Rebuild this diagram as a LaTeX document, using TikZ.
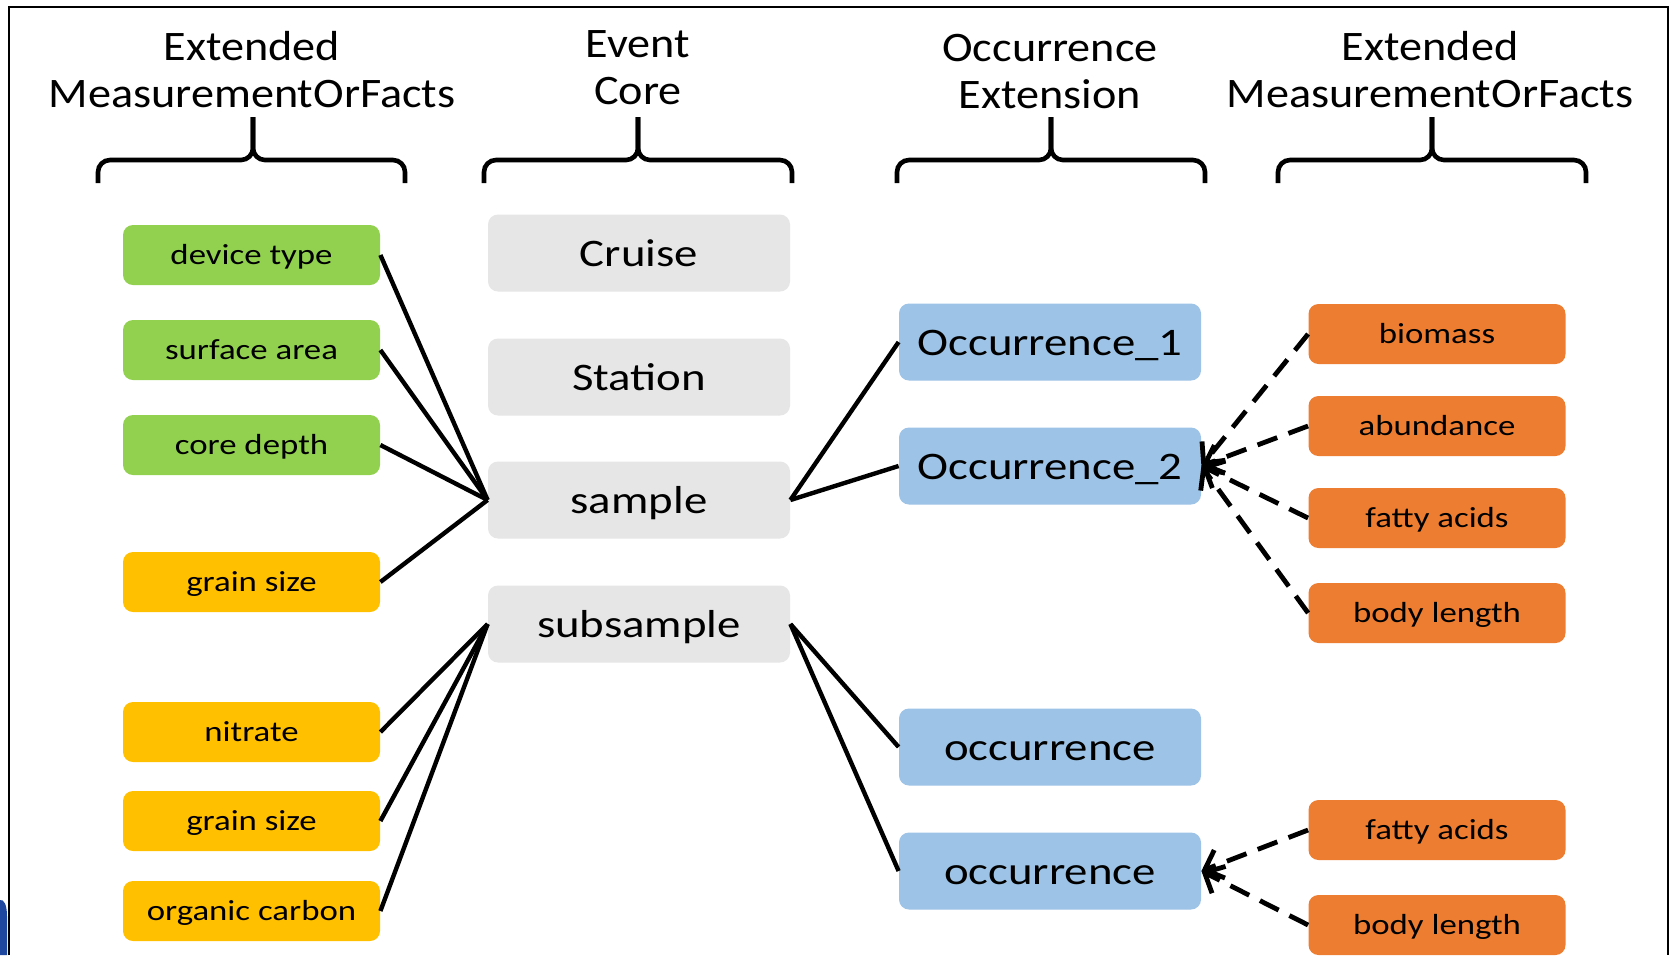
\documentclass[tikz,border=0pt]{standalone}
\usepackage{fontspec}
\setmainfont[FakeStretch=1.2]{Carlito}
\newfontfamily\hdrfont[FakeStretch=1.1]{Carlito}
\usetikzlibrary{arrows.meta}
\definecolor{gbox}{HTML}{92D050}
\definecolor{ybox}{HTML}{FFC000}
\definecolor{grbox}{HTML}{E6E6E6}
\definecolor{bbox}{HTML}{9DC3E6}
\definecolor{obox}{HTML}{ED7D31}
\definecolor{blob}{HTML}{1E48A0}
\tikzset{
  hdr/.style={anchor=base, inner sep=0pt, font=\hdrfont\fontsize{21}{23.5}\selectfont},
  smallbox/.style={rounded corners=5pt, minimum width=128.5pt, minimum height=30pt, inner sep=0pt,
    text height=12pt, text depth=3pt, font=\fontsize{14.5}{16}\selectfont},
  bigbox/.style={rounded corners=5pt, minimum width=151pt, minimum height=38.5pt, inner sep=0pt,
    text height=17pt, text depth=4pt, font=\fontsize{19.5}{22}\selectfont},
  greenbox/.style={smallbox, fill=gbox},
  yellowbox/.style={smallbox, fill=ybox},
  orangebox/.style={smallbox, fill=obox},
  graybox/.style={bigbox, fill=grbox},
  bluebox/.style={bigbox, fill=bbox},
  brace/.style={line width=2.3pt, rounded corners=6pt},
  link/.style={line width=2.2pt},
  dlink/.style={line width=2.4pt, dash pattern=on 10.5pt off 6pt,
    -{Straight Barb[length=8pt,width=15pt,line width=2.4pt]}},
}
\begin{document}
\begin{tikzpicture}[x=0.5pt,y=-0.5pt]
\useasboundingbox (0,0) rectangle (1675,955);
\fill[white] (0,0) rectangle (1675,955);
% frame
\draw[line width=1.4pt] (9,955) -- (9,7) -- (1668,7) -- (1668,955);
\fill[blob] (0,955) -- (0,900) .. controls (4,899) and (7,905) .. (7,916) -- (7,955) -- cycle;

% headers
\node[hdr] (hA1) at (252,60) {Extended};
\node[hdr] (hA2) at (252,107) {MeasurementOrFacts};
\node[hdr] (hB1) at (638,57) {Event};
\node[hdr] (hB2) at (638,104) {Core};
\node[hdr] (hC1) at (1050,61) {Occurrence};
\node[hdr] (hC2) at (1050,108) {Extension};
\node[hdr] (hD1) at (1430,60) {Extended};
\node[hdr] (hD2) at (1430,107) {MeasurementOrFacts};

% braces
\foreach \l/\c/\r in {98/253/405, 484/638/792, 897/1051/1205, 1278/1432/1586}{
  \draw[brace] (\l,183) -- (\l,160) -- (\c,160) -- (\c,117);
  \draw[brace] (\r,183) -- (\r,160) -- (\c,160) -- (\c,117);
}

% left column
\node[greenbox] (dev) at (251.5,255) {device type};
\node[greenbox] (surf) at (251.5,350) {surface area};
\node[greenbox] (core) at (251.5,445) {core depth};
\node[yellowbox] (grain1) at (251.5,582) {grain size};
\node[yellowbox] (nitr) at (251.5,732) {nitrate};
\node[yellowbox] (grain2) at (251.5,821) {grain size};
\node[yellowbox] (orgc) at (251.5,911) {organic carbon};

% event core
\node[graybox] (cruise) at (639,253) {Cruise};
\node[graybox] (station) at (639,377) {Station};
\node[graybox] (sample) at (639,500) {sample};
\node[graybox] (subsample) at (639,624) {subsample};

% occurrences
\node[bluebox] (occ1) at (1050,342) {Occurrence\_1};
\node[bluebox] (occ2) at (1050,466) {Occurrence\_2};
\node[bluebox] (occa) at (1050,747) {occurrence};
\node[bluebox] (occb) at (1050,871) {occurrence};

% right column
\node[orangebox] (bio) at (1437,334) {biomass};
\node[orangebox] (abu) at (1437,426) {abundance};
\node[orangebox] (fat1) at (1437,518) {fatty acids};
\node[orangebox] (body1) at (1437,613) {body length};
\node[orangebox] (fat2) at (1437,830) {fatty acids};
\node[orangebox] (body2) at (1437,925) {body length};

% solid links
\foreach \n in {dev,surf,core,grain1}{\draw[link] (\n.east) -- (sample.west);}
\foreach \n in {nitr,grain2,orgc}{\draw[link] (\n.east) -- (subsample.west);}
\foreach \n in {occ1,occ2}{\draw[link] (sample.east) -- (\n.west);}
\foreach \n in {occa,occb}{\draw[link] (subsample.east) -- (\n.west);}

% dashed links
\foreach \n in {bio,abu,fat1,body1}{\draw[dlink] (\n.west) -- (occ2.east);}
\foreach \n in {fat2,body2}{\draw[dlink] (\n.west) -- (occb.east);}
\end{tikzpicture}
\end{document}
